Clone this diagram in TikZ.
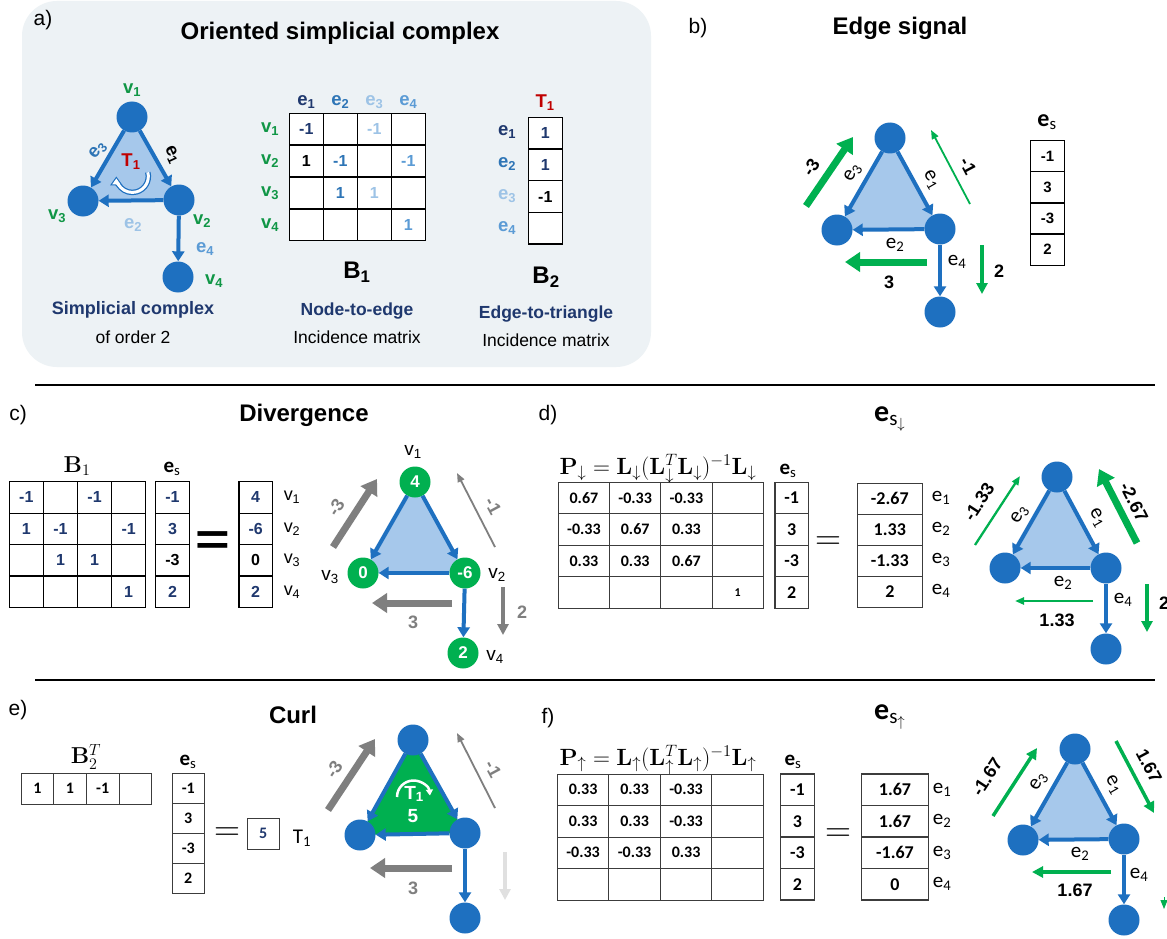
\RequirePackage{fix-cm}
\documentclass[tikz,border=0pt]{standalone}
\usepackage[no-math]{fontspec}
\setmainfont{Liberation Sans}
\newfontfamily\calib{Carlito}
\usetikzlibrary{arrows.meta}
\definecolor{nodeblue}{RGB}{30,112,192}
\definecolor{trifill}{RGB}{166,200,235}
\definecolor{sgreen}{RGB}{0,176,80}
\definecolor{lblgreen}{RGB}{16,150,70}
\definecolor{sgray}{RGB}{127,127,127}
\definecolor{lgray}{RGB}{224,224,224}
\definecolor{navyc}{RGB}{31,56,110}
\definecolor{redc}{RGB}{192,0,0}
\definecolor{ebtwo}{RGB}{46,117,182}
\definecolor{ebthree}{RGB}{157,195,230}
\definecolor{ebfour}{RGB}{91,155,213}
\definecolor{bga}{RGB}{237,242,245}
\definecolor{tabline}{RGB}{60,60,60}
\newcommand{\fsz}[1]{\fontsize{#1}{#1}\selectfont}
\newcommand{\sbs}[1]{\textsubscript{#1}}
\newcommand{\esh}{{\calib\bfseries e}\sbs{\calib s}}
\newcommand{\mattab}[7]{\foreach \r/\c/\v in {#7}{\node[#6, minimum width=#4pt, minimum height=#5pt] (#1-\r-\c) at ({#2+(\c-0.5)*#4},{#3+(\r-0.5)*#5}) {\v};}}
\newcommand{\coltab}[7]{\foreach \r/\v in {#7}{\node[#6, minimum width=#4pt, minimum height=#5pt] (#1-\r) at ({#2+0.5*#4},{#3+(\r-0.5)*#5}) {\v};}}
\begin{document}
\begin{tikzpicture}[x=1pt,y=-1pt,
  vnode/.style={circle, fill=nodeblue, minimum size=31pt, inner sep=0pt},
  gnode/.style={circle, fill=sgreen, minimum size=31pt, inner sep=0pt, text=white, font=\bfseries\fsz{17}},
  edge/.style={draw=nodeblue, line width=4pt, -{Triangle[length=10pt,width=12pt]}},
  thickarr/.style={line width=7pt, -{Triangle[length=15pt,width=19pt]}},
  medarr/.style={line width=3.5pt, -{Triangle[length=11pt,width=11pt]}},
  thinarr/.style={line width=1.8pt, -{Triangle[length=9pt,width=7pt]}},
  tl/.style={inner sep=0pt},
  panlbl/.style={inner sep=0pt, font=\fsz{21}},
  ttl/.style={inner sep=0pt, font=\bfseries\fsz{24}},
  alab/.style={inner sep=0pt, font=\bfseries\fsz{18}},
  elab/.style={inner sep=0pt, font=\calib\fsz{21}},
  albl/.style={inner sep=0pt, font=\bfseries\fsz{18.5}},
  cellA/.style={draw, line width=1.3pt, fill=white, inner sep=0pt, font=\bfseries\fsz{16}},
  cellC/.style={draw, line width=1.2pt, inner sep=0pt, font=\bfseries\fsz{16}, text=navyc},
  cellD/.style={draw=tabline, line width=1pt, inner sep=0pt, font=\calib\bfseries\fsz{16}},
  cellE/.style={draw=tabline, line width=1.2pt, inner sep=0pt, font=\calib\bfseries\fsz{18}}
]
\useasboundingbox (0,0) rectangle (1167,939);
\fill[white] (0,0) rectangle (1167,939);

% ================= Panel a =================
\fill[bga, rounded corners=35pt] (22,1) rectangle (651,367);
\node[panlbl] (la) at (43,20) {a)};
\node[ttl] (ta) at (340,33) {Oriented simplicial complex};
\coordinate (a1) at (132,117); \coordinate (a2) at (179,200);
\coordinate (a3) at (83,201); \coordinate (a4) at (178,277);
\fill[trifill] (a1) -- (a2) -- (a3) -- cycle;
\node[vnode] (av1) at (a1) {}; \node[vnode] (av2) at (a2) {};
\node[vnode] (av3) at (a3) {}; \node[vnode] (av4) at (a4) {};
\draw[edge] (av1) -- (av2); \draw[edge] (av2) -- (av3);
\draw[edge] (av1) -- (av3); \draw[edge] (av2) -- (av4);
\draw[nodeblue, line width=5.5pt, -{Triangle[length=9pt,width=12pt]}] (147.8,172.3) arc[start angle=-15, end angle=180, radius=16];
\draw[white, line width=3pt, shorten >=2pt, -{Triangle[length=6pt,width=8pt]}] (147.8,172.3) arc[start angle=-15, end angle=180, radius=16];
\node[albl, text=redc] (aT) at (131,162) {T\sbs{1}};
\node[albl, text=lblgreen] (lav1) at (132,90) {v\sbs{1}};
\node[albl, text=lblgreen] (lav3) at (57,216) {v\sbs{3}};
\node[albl, text=lblgreen] (lav2) at (202,221) {v\sbs{2}};
\node[albl, text=lblgreen] (lav4) at (214,281) {v\sbs{4}};
\node[albl, text=ebtwo, rotate=50] (lae3) at (98,150) {e\sbs{3}};
\node[albl, rotate=-65] (lae1) at (172,155) {e\sbs{1}};
\node[albl, text=ebthree] (lae2) at (133,225) {e\sbs{2}};
\node[albl, text=ebfour] (lae4) at (205,249) {e\sbs{4}};
\node[tl, font=\bfseries\fsz{18}, text=navyc] (asc) at (133,310) {Simplicial complex};
\node[tl, font=\fsz{17.5}] (aso) at (133,337) {of order 2};
% B1 matrix
\mattab{mA}{289.3}{113.3}{34}{31.85}{cellA}{1/1/{\color{navyc}-1}, 1/2/{}, 1/3/{\color{ebthree}-1}, 1/4/{}, 2/1/1, 2/2/{\color{ebtwo}-1}, 2/3/{}, 2/4/{\color{ebfour}-1}, 3/1/{}, 3/2/{\color{ebtwo}1}, 3/3/{\color{ebthree}1}, 3/4/{}, 4/1/{}, 4/2/{}, 4/3/{}, 4/4/{\color{ebfour}1}}
\node[albl, text=navyc] (hA1) at (306.3,102) {e\sbs{1}};
\node[albl, text=ebtwo] (hA2) at (340.3,102) {e\sbs{2}};
\node[albl, text=ebthree] (hA3) at (374.3,102) {e\sbs{3}};
\node[albl, text=ebfour] (hA4) at (408.3,102) {e\sbs{4}};
\node[albl, text=lblgreen] (rA1) at (270,129) {v\sbs{1}};
\node[albl, text=lblgreen] (rA2) at (270,161) {v\sbs{2}};
\node[albl, text=lblgreen] (rA3) at (270,193) {v\sbs{3}};
\node[albl, text=lblgreen] (rA4) at (270,225) {v\sbs{4}};
\node[tl, font=\bfseries\fsz{24}] (aB1) at (357,272) {B\sbs{1}};
\node[tl, font=\bfseries\fsz{17.5}, text=navyc] (aB1a) at (357,311) {Node-to-edge};
\node[tl, font=\fsz{17.5}] (aB1b) at (357,337) {Incidence matrix};
% B2
\coltab{mB}{528.3}{117.3}{34}{31.7}{cellA}{1/{\color{navyc}1}, 2/{\color{navyc}1}, 3/-1, 4/{}}
\node[albl, text=redc] (hB) at (545,103) {T\sbs{1}};
\node[albl, text=navyc] (rB1) at (507,132) {e\sbs{1}};
\node[albl, text=ebtwo] (rB2) at (507,164) {e\sbs{2}};
\node[albl, text=ebthree] (rB3) at (507,196) {e\sbs{3}};
\node[albl, text=ebfour] (rB4) at (507,228) {e\sbs{4}};
\node[tl, font=\bfseries\fsz{24}] (aB2) at (546,277) {B\sbs{2}};
\node[tl, font=\bfseries\fsz{17.5}, text=navyc] (aB2a) at (546,314) {Edge-to-triangle};
\node[tl, font=\fsz{17.5}] (aB2b) at (546,340) {Incidence matrix};

% ================= Panel b =================
\node[panlbl] (lb) at (698,28) {b)};
\node[ttl] (tb) at (900,28) {Edge signal};
\coordinate (b1) at (890,138); \coordinate (b2) at (940,229);
\coordinate (b3) at (837,230); \coordinate (b4) at (940,312);
\fill[trifill] (b1) -- (b2) -- (b3) -- cycle;
\node[vnode] (bv1) at (b1) {}; \node[vnode] (bv2) at (b2) {};
\node[vnode] (bv3) at (b3) {}; \node[vnode] (bv4) at (b4) {};
\draw[edge] (bv1) -- (bv2); \draw[edge] (bv2) -- (bv3);
\draw[edge] (bv1) -- (bv3); \draw[edge] (bv2) -- (bv4);
\coordinate (bs3a) at (806,206); \coordinate (bs3b) at (853,137);
\draw[sgreen, thickarr] (bs3a) -- (bs3b);
\coordinate (bs1a) at (970,204); \coordinate (bs1b) at (931,130);
\draw[sgreen, thinarr] (bs1a) -- (bs1b);
\coordinate (bs2a) at (927,262); \coordinate (bs2b) at (845,262);
\draw[sgreen, thickarr] (bs2a) -- (bs2b);
\coordinate (bs4a) at (982,245); \coordinate (bs4b) at (982,294);
\draw[sgreen, medarr] (bs4a) -- (bs4b);
\node[alab, rotate=56] (lbs3) at (811,167) {-3};
\node[alab, rotate=-62] (lbs1) at (968,166) {-1};
\node[alab] (lbs2) at (889,282) {3};
\node[alab] (lbs4) at (999,271) {2};
\node[elab, rotate=60] (lbe3) at (853,173) {e\sbs{3}};
\node[elab, rotate=-60] (lbe1) at (931,180) {e\sbs{1}};
\node[elab] (lbe2) at (895,245) {e\sbs{2}};
\node[elab] (lbe4) at (957,262) {e\sbs{4}};
\node[tl, font=\fsz{24}] (hbs) at (1047,122) {\esh};
\coltab{tbs}{1030.7}{140.7}{33.6}{31.1}{draw, line width=1.2pt, inner sep=0pt, font=\bfseries\fsz{15}}{1/-1, 2/3, 3/-3, 4/2}

% separators
\coordinate (sepa1) at (35,385); \coordinate (sepa2) at (1155,385);
\draw[line width=1.5pt] (sepa1) -- (sepa2);
\coordinate (sepb1) at (35,680); \coordinate (sepb2) at (1155,680);
\draw[line width=1.5pt] (sepb1) -- (sepb2);

% ================= Panel c =================
\node[panlbl] (lc) at (18,415) {c)};
\node[ttl] (tc) at (304,415) {Divergence};
\node[tl, font=\fsz{23}] (cB1) at (77,466) {$\mathbf{B}_1$};
\mattab{mC}{9.3}{481.7}{34.1}{31.4}{cellC}{1/1/-1, 1/2/{}, 1/3/-1, 1/4/{}, 2/1/1, 2/2/-1, 2/3/{}, 2/4/-1, 3/1/{}, 3/2/1, 3/3/1, 3/4/{}, 4/1/{}, 4/2/{}, 4/3/{}, 4/4/1}
\node[tl, font=\fsz{21}] (hcs) at (172,469) {\esh};
\coltab{tcs}{155.7}{481.7}{33.6}{31.4}{cellC}{1/-1, 2/3, 3/{\color{black}-3}, 4/2}
\node[tl, font=\bfseries\fsz{44}] (ceq) at (213,543) {\scalebox{1.35}[1]{=}};
\coltab{tcr}{239}{481.7}{33.3}{31.4}{cellC}{1/4, 2/-6, 3/{\color{black}0}, 4/2}
\node[tl, font=\fsz{18}] (lcr1) at (292,497) {v\sbs{1}};
\node[tl, font=\fsz{18}] (lcr2) at (292,529) {v\sbs{2}};
\node[tl, font=\fsz{18}] (lcr3) at (292,560) {v\sbs{3}};
\node[tl, font=\fsz{18}] (lcr4) at (292,592) {v\sbs{4}};
\coordinate (c1) at (415,482); \coordinate (c2) at (465,573);
\coordinate (c3) at (363,573); \coordinate (c4) at (463,653);
\fill[trifill] (c1) -- (c2) -- (c3) -- cycle;
\node[gnode] (cv1) at (c1) {4}; \node[gnode] (cv2) at (c2) {-6};
\node[gnode] (cv3) at (c3) {0}; \node[gnode] (cv4) at (c4) {2};
\draw[edge] (cv1) -- (cv2); \draw[edge] (cv2) -- (cv3);
\draw[edge] (cv1) -- (cv3); \draw[edge] (cv2) -- (cv4);
\node[tl, font=\fsz{19}] (lcv1) at (413,452) {v\sbs{1}};
\node[tl, font=\fsz{19}] (lcv3) at (330,577) {v\sbs{3}};
\node[tl, font=\fsz{19}] (lcv2) at (497,575) {v\sbs{2}};
\node[tl, font=\fsz{19}] (lcv4) at (495,657) {v\sbs{4}};
\coordinate (cs3a) at (333,547); \coordinate (cs3b) at (377,479);
\draw[sgray, thickarr] (cs3a) -- (cs3b);
\coordinate (cs1a) at (495,547); \coordinate (cs1b) at (457,473);
\draw[sgray, thinarr] (cs1a) -- (cs1b);
\coordinate (cs2a) at (452,603); \coordinate (cs2b) at (372,603);
\draw[sgray, thickarr] (cs2a) -- (cs2b);
\coordinate (cs4a) at (503,587); \coordinate (cs4b) at (503,635);
\draw[sgray, medarr] (cs4a) -- (cs4b);
\node[alab, text=sgray, rotate=57] (lcs3) at (336,507) {-3};
\node[alab, text=sgray, rotate=-62] (lcs1) at (493,506) {-1};
\node[alab, text=sgray] (lcs2) at (413,622) {3};
\node[alab, text=sgray] (lcs4) at (522,612) {2};

% ================= Panel d =================
\node[panlbl] (ld) at (548,415) {d)};
\node[tl] (td) at (890,419) {{\calib\bfseries\fsz{30}e}{\calib\fsz{30}\sbs{s\sbs{$\downarrow$}}}};
\node[tl, font=\fsz{23.5}] (dP) at (658,469) {$\mathbf{P}_{\downarrow}=\mathbf{L}_{\downarrow}(\mathbf{L}_{\downarrow}^{T}\mathbf{L}_{\downarrow})^{-1}\mathbf{L}_{\downarrow}$};
\mattab{mD}{558.3}{482.3}{51.25}{31.5}{cellD}{1/1/0.67, 1/2/-0.33, 1/3/-0.33, 1/4/{}, 2/1/-0.33, 2/2/0.67, 2/3/0.33, 2/4/{}, 3/1/0.33, 3/2/0.33, 3/3/0.67, 3/4/{}, 4/1/{}, 4/2/{}, 4/3/{}, 4/4/{\fsz{12}1}}
\node[tl, font=\fsz{21}] (hds) at (788,471) {\esh};
\coltab{tds}{775}{482.3}{33.3}{31.5}{cellE}{1/-1, 2/3, 3/-3, 4/2}
\node[tl, font=\fsz{36}] (deq) at (828,543) {$=$};
\coltab{tdr}{857.3}{483.3}{65}{31}{cellE}{1/-2.67, 2/1.33, 3/-1.33, 4/2}
\node[tl, font=\calib\fsz{21}] (ldr1) at (941,498) {e\sbs{1}};
\node[tl, font=\calib\fsz{21}] (ldr2) at (941,529) {e\sbs{2}};
\node[tl, font=\calib\fsz{21}] (ldr3) at (941,560) {e\sbs{3}};
\node[tl, font=\calib\fsz{21}] (ldr4) at (941,591) {e\sbs{4}};
\coordinate (d1) at (1057,477); \coordinate (d2) at (1106,568);
\coordinate (d3) at (1005,568); \coordinate (d4) at (1106,649);
\fill[trifill] (d1) -- (d2) -- (d3) -- cycle;
\node[vnode] (dv1) at (d1) {}; \node[vnode] (dv2) at (d2) {};
\node[vnode] (dv3) at (d3) {}; \node[vnode] (dv4) at (d4) {};
\draw[edge] (dv1) -- (dv2); \draw[edge] (dv2) -- (dv3);
\draw[edge] (dv1) -- (dv3); \draw[edge] (dv2) -- (dv4);
\coordinate (ds3a) at (975,545); \coordinate (ds3b) at (1020,476);
\draw[sgreen, thinarr, line width=2.3pt] (ds3a) -- (ds3b);
\coordinate (ds1a) at (1137,543); \coordinate (ds1b) at (1099,469);
\draw[sgreen, thickarr] (ds1a) -- (ds1b);
\coordinate (ds2a) at (1093,601); \coordinate (ds2b) at (1015,601);
\draw[sgreen, thinarr, line width=2.8pt] (ds2a) -- (ds2b);
\coordinate (ds4a) at (1147,584); \coordinate (ds4b) at (1147,632);
\draw[sgreen, medarr] (ds4a) -- (ds4b);
\node[alab, rotate=57] (lds3) at (979,502) {-1.33};
\node[alab, rotate=-63] (lds1) at (1134,502) {-2.67};
\node[alab] (lds2) at (1057,620) {1.33};
\node[alab] (lds4) at (1164,603) {2};
\node[elab, rotate=57] (lde3) at (1020,515) {e\sbs{3}};
\node[elab, rotate=-60] (lde1) at (1097,518) {e\sbs{1}};
\node[elab] (lde2) at (1063,583) {e\sbs{2}};
\node[elab] (lde4) at (1123,600) {e\sbs{4}};

% ================= Panel e =================
\node[panlbl] (le) at (18,710) {e)};
\node[ttl] (te) at (293,715) {Curl};
\node[tl, font=\fsz{23}] (eB2) at (86,757) {$\mathbf{B}_2^T$};
\mattab{mE}{21}{773.3}{32.7}{30.7}{cellD}{1/1/1, 1/2/1, 1/3/-1, 1/4/{}}
\node[tl, font=\fsz{21}] (hes) at (188,762) {\esh};
\coltab{tes}{172.3}{773.3}{32}{30}{cellD}{1/-1, 2/3, 3/-3, 4/2}
\node[tl, font=\fsz{36}] (eeq) at (227,834) {$=$};
\coltab{ter}{247.3}{818.3}{31.7}{31}{cellD}{1/{\color{navyc}5}}
\node[tl, font=\calib\fsz{21}] (leT) at (302,838) {T\sbs{1}};
\coordinate (e1) at (413,740); \coordinate (e2) at (465,833);
\coordinate (e3) at (360,835); \coordinate (e4) at (465,918);
\fill[sgreen] (e1) -- (e2) -- (e3) -- cycle;
\node[vnode] (ev1) at (e1) {}; \node[vnode] (ev2) at (e2) {};
\node[vnode] (ev3) at (e3) {}; \node[vnode] (ev4) at (e4) {};
\draw[edge] (ev1) -- (ev2); \draw[edge] (ev2) -- (ev3);
\draw[edge] (ev1) -- (ev3); \draw[edge] (ev2) -- (ev4);
\draw[white, line width=2.5pt, -{Triangle[length=6pt,width=7pt]}] (397,797) arc[start angle=180, end angle=355, radius=16.5];
\node[tl, font=\bfseries\fsz{19}, text=white] (eT) at (414,794) {T\sbs{1}};
\node[tl, font=\bfseries\fsz{19}, text=white] (eT5) at (413,816) {5};
\coordinate (es3a) at (328,810); \coordinate (es3b) at (375,739);
\draw[sgray, thickarr] (es3a) -- (es3b);
\coordinate (es1a) at (495,808); \coordinate (es1b) at (457,733);
\draw[sgray, thinarr] (es1a) -- (es1b);
\coordinate (es2a) at (452,868); \coordinate (es2b) at (370,868);
\draw[sgray, thickarr] (es2a) -- (es2b);
\coordinate (es4a) at (505,852); \coordinate (es4b) at (505,900);
\draw[lgray, medarr] (es4a) -- (es4b);
\node[alab, text=sgray, rotate=57] (les3) at (334,769) {-3};
\node[alab, text=sgray, rotate=-62] (les1) at (493,769) {-1};
\node[alab, text=sgray] (les2) at (413,888) {3};

% ================= Panel f =================
\node[panlbl] (lf) at (548,718) {f)};
\node[tl] (tf) at (890,717) {{\calib\bfseries\fsz{30}e}{\calib\fsz{30}\sbs{s\sbs{$\uparrow$}}}};
\node[tl, font=\fsz{23.5}] (fP) at (658,760) {$\mathbf{P}_{\uparrow}=\mathbf{L}_{\uparrow}(\mathbf{L}_{\uparrow}^{T}\mathbf{L}_{\uparrow})^{-1}\mathbf{L}_{\uparrow}$};
\mattab{mF}{557.3}{774}{51.5}{31.5}{cellD}{1/1/0.33, 1/2/0.33, 1/3/-0.33, 1/4/{}, 2/1/0.33, 2/2/0.33, 2/3/-0.33, 2/4/{}, 3/1/-0.33, 3/2/-0.33, 3/3/0.33, 3/4/{}, 4/1/{}, 4/2/{}, 4/3/{}, 4/4/{}}
\node[tl, font=\fsz{21}] (hfs) at (793,762) {\esh};
\coltab{tfs}{780.7}{774}{33.6}{31.5}{cellE}{1/-1, 2/3, 3/-3, 4/2}
\node[tl, font=\fsz{36}] (feq) at (838,835) {$=$};
\coltab{tfr}{861.7}{774}{66.6}{31.5}{cellE}{1/1.67, 2/1.67, 3/-1.67, 4/0}
\node[tl, font=\calib\fsz{21}] (lfr1) at (942,790) {e\sbs{1}};
\node[tl, font=\calib\fsz{21}] (lfr2) at (942,821) {e\sbs{2}};
\node[tl, font=\calib\fsz{21}] (lfr3) at (942,853) {e\sbs{3}};
\node[tl, font=\calib\fsz{21}] (lfr4) at (942,884) {e\sbs{4}};
\coordinate (f1) at (1075,749); \coordinate (f2) at (1124,839);
\coordinate (f3) at (1023,840); \coordinate (f4) at (1124,920);
\fill[trifill] (f1) -- (f2) -- (f3) -- cycle;
\node[vnode] (fv1) at (f1) {}; \node[vnode] (fv2) at (f2) {};
\node[vnode] (fv3) at (f3) {}; \node[vnode] (fv4) at (f4) {};
\draw[edge] (fv1) -- (fv2); \draw[edge] (fv2) -- (fv3);
\draw[edge] (fv1) -- (fv3); \draw[edge] (fv2) -- (fv4);
\coordinate (fs3a) at (993,816); \coordinate (fs3b) at (1037,748);
\draw[sgreen, medarr] (fs3a) -- (fs3b);
\coordinate (fs1a) at (1116,741); \coordinate (fs1b) at (1154,813);
\draw[sgreen, medarr] (fs1a) -- (fs1b);
\coordinate (fs2a) at (1111,872); \coordinate (fs2b) at (1032,872);
\draw[sgreen, medarr] (fs2a) -- (fs2b);
\coordinate (fs4a) at (1164,897); \coordinate (fs4b) at (1164,909);
\draw[sgreen, thinarr, line width=1pt] (fs4a) -- (fs4b);
\node[alab, rotate=57] (lfs3) at (987,777) {-1.67};
\node[alab, rotate=-62] (lfs1) at (1149,766) {1.67};
\node[alab] (lfs2) at (1075,890) {1.67};
\node[elab, rotate=57] (lfe3) at (1039,782) {e\sbs{3}};
\node[elab, rotate=-60] (lfe1) at (1113,785) {e\sbs{1}};
\node[elab] (lfe2) at (1080,854) {e\sbs{2}};
\node[elab] (lfe4) at (1139,875) {e\sbs{4}};
\end{tikzpicture}
\end{document}
